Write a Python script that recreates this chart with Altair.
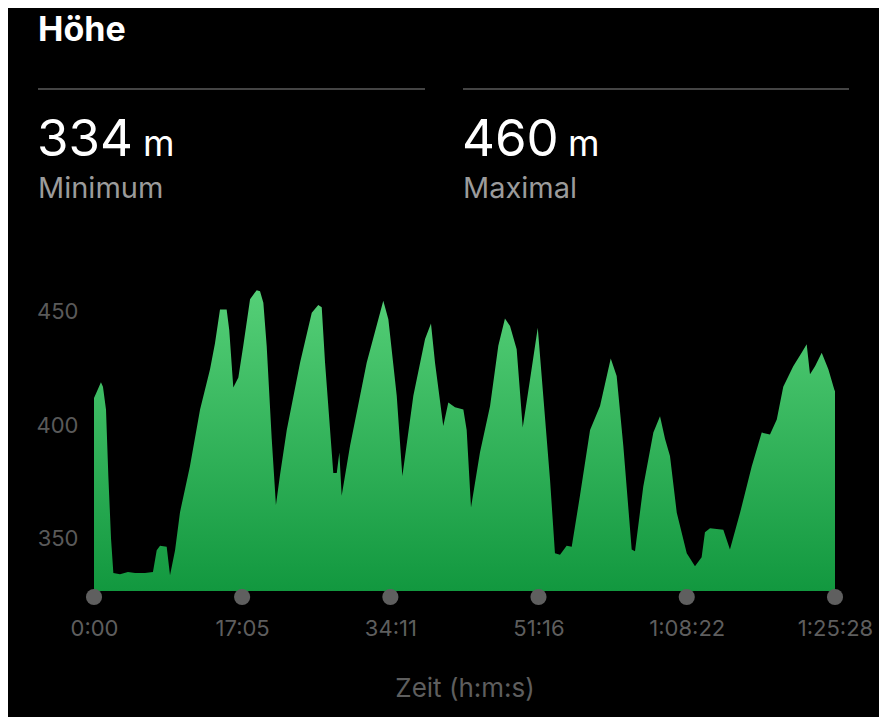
import altair as alt
import pandas as pd

# ---- data ----
time_s = [0, 14, 48, 62, 83, 99, 118, 134, 180, 235, 284, 353, 408, 434, 457, 503,
          526, 561, 595, 664, 734, 803, 837, 872, 918, 936, 964, 999, 1033, 1080,
          1126, 1149, 1172, 1195, 1230, 1259, 1287, 1334, 1426, 1507, 1552, 1576,
          1599, 1656, 1680, 1698, 1714, 1772, 1887, 2002, 2037, 2095, 2134, 2210,
          2291, 2332, 2360, 2417, 2452, 2498, 2556, 2579, 2609, 2671, 2741, 2798,
          2844, 2879, 2925, 2967, 3017, 3071, 3109, 3156, 3190, 3225, 3271, 3306,
          3363, 3433, 3502, 3576, 3617, 3663, 3721, 3744, 3801, 3871, 3917, 3952,
          3986, 4033, 4102, 4159, 4205, 4228, 4263, 4355, 4401, 4471, 4552, 4621,
          4678, 4725, 4770, 4839, 4897, 4932, 4955, 4990, 5036, 5082, 5123, 5128]
elev_m = [412, 414, 419, 417, 407, 378, 350, 335, 334.5, 335.5, 335, 335, 335.5, 345,
          347, 346.6, 334, 345, 361.7, 382, 407, 424.7, 436, 451, 451, 442, 416.6,
          421, 435, 455.5, 459.5, 459, 454, 435, 394, 365, 378, 398, 427.6, 449.6,
          453, 452, 427.6, 379, 379, 388, 369, 391, 427.6, 454.8, 446.7, 413, 377.7,
          413, 438, 444.8, 427.6, 399.7, 410, 408, 407, 398, 363.8, 388, 408.5, 435,
          447, 443.7, 433.5, 399, 420, 443, 413, 376, 343.7, 343, 347, 346.6, 369,
          398, 408.5, 429.4, 421.7, 391, 345.4, 344.6, 373, 396.8, 404, 394, 386.5,
          361.5, 343.7, 338, 342, 353, 354.7, 354, 345.4, 361.5, 382, 396.8, 396,
          402.6, 417, 426, 432, 435.7, 422.5, 426, 432, 424.7, 415.8, 415]

tick_seconds = [0, 1025, 2051, 3076, 4102, 5128]
tick_labels = ["0:00", "17:05", "34:11", "51:16", "1:08:22", "1:25:28"]
y_ticks = [350, 400, 450]
y_floor = 327.1
y_top = 460

title_text = ["Höhe"]
stat_values = ["334", "460"]
stat_units = ["m", "m"]
stat_names = ["Minimum", "Maximal"]

FONT = "Inter"
W, H = 741, 302

df = pd.DataFrame({"t": time_s, "h": elev_m})
ticks_df = pd.DataFrame({"t": tick_seconds, "lab": tick_labels})

label_expr = "[" + ",".join(f"'{l}'" for l in tick_labels) + "][round(datum.value/1025.6)]"

x_scale = alt.Scale(domain=[0, 5128], nice=False, zero=False)
y_scale = alt.Scale(domain=[y_floor, y_top], nice=False, zero=False)

area = alt.Chart(df).mark_area(
    color=alt.Gradient(
        gradient="linear",
        stops=[alt.GradientStop(color="#12983f", offset=0),
               alt.GradientStop(color="#55cf77", offset=1)],
        x1=1, x2=1, y1=1, y2=0),
    interpolate="linear",
).encode(
    x=alt.X("t:Q", scale=x_scale,
            axis=alt.Axis(values=tick_seconds, labelExpr=label_expr, ticks=False,
                          domain=False, grid=False, labelPadding=27,
                          labelFontSize=22, labelColor="#5e5e5e", labelFont=FONT,
                          title="Zeit (h:m:s)", titleFont=FONT, titleFontSize=26,
                          titleFontWeight="normal", titleColor="#5e5e5e",
                          titlePadding=36, labelFlush=False)),
    y=alt.Y("h:Q", scale=y_scale,
            axis=alt.Axis(values=y_ticks, ticks=False, domain=False, grid=False,
                          labelPadding=16, labelFontSize=22, labelColor="#5a5a5a",
                          labelFont=FONT, title=None)),
    y2=alt.datum(y_floor),
)

dots = alt.Chart(ticks_df).mark_circle(size=260, color="#5f5f5f", opacity=1,
                                       yOffset=6, clip=False).encode(
    x=alt.X("t:Q", scale=x_scale),
    y=alt.datum(y_floor),
)

# header texts
def text_layer(items, x, y, size, color, weight="normal"):
    d = pd.DataFrame({"s": items, "x": x})
    return alt.Chart(d).mark_text(align="left", baseline="alphabetic", font=FONT,
                                  fontSize=size, color=color, fontWeight=weight).encode(
        text="s:N", x=alt.X("x:Q", scale=None), y=alt.value(y))

title = text_layer(title_text, [-56], -248, 34, "#ffffff", "bold")
values = text_layer(stat_values, [-57, 368], -133, 51, "#ffffff")
units = text_layer(stat_units, [49, 474], -133, 36, "#ffffff")
names = text_layer(stat_names, [-56, 369], -91, 29, "#9b9b9b")

sep_df = pd.DataFrame({"x": [-56, 369], "x2": [331, 755]})
seps = alt.Chart(sep_df).mark_rule(color="#444444", strokeWidth=2).encode(
    x=alt.X("x:Q", scale=None), x2="x2:Q", y=alt.value(-200))

chart = alt.layer(area, dots, seps, title, values, units, names).properties(
    width=W, height=H,
    autosize=alt.AutoSizeParams(type="none"),
    padding={"left": 86, "top": 281, "right": 44, "bottom": 126},
    background="#000000",
).configure_view(stroke=None)

chart.save("out.html", embed_options={"renderer": "svg", "actions": False})
